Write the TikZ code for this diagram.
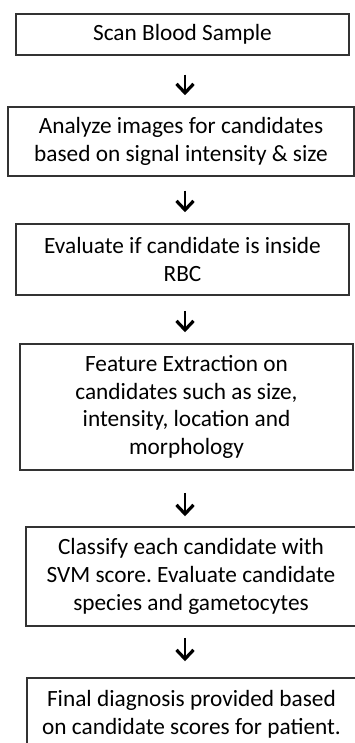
\documentclass[tikz,border=0pt]{standalone}
\usepackage{fontspec}
\setmainfont{Carlito}
\usetikzlibrary{arrows.meta}
\begin{document}
\frenchspacing
\begin{tikzpicture}[x=1pt,y=-1pt,
  box/.style={draw=black!80, line width=1.5pt, align=center, inner sep=0pt,
    font=\fontsize{23.3}{27.8}\selectfont, text=black},
  arr/.style={line width=2.2pt, draw=black,
    -{Straight Barb[length=9pt,width=17pt,line width=3.2pt]}}]
\useasboundingbox (0,0) rectangle (355,743);
\clip (0,0) rectangle (355,743);
\fill[white] (0,0) rectangle (355,743);
\node[box, minimum width=333pt, minimum height=41pt] (b1) at (182.5,34.5) {Scan Blood Sample};
\node[box, minimum width=346pt, minimum height=69pt] (b2) at (181,141.5) {Analyze images for candidates\\based on signal intensity \& size};
\node[box, minimum width=333pt, minimum height=71pt] (b3) at (182.5,259.5) {Evaluate if candidate is inside\\RBC};
\node[box, minimum width=333pt, minimum height=126pt] (b4) at (186.5,407) {Feature Extraction on\\candidates such as size,\\intensity, location and\\morphology};
\node[box, minimum width=330pt, minimum height=99pt] (b5) at (191,576.5) {Classify each candidate with\\SVM score. Evaluate candidate\\species and gametocytes};
\node[box, minimum width=329pt, minimum height=73pt] (b6) at (191.5,714.5) {Final diagnosis provided based\\on candidate scores for patient.};
\coordinate (ax) at (185,0);
\draw[arr, shorten <=19pt, shorten >=11pt] (b1.south -| ax) -- (b2.north -| ax);
\draw[arr, shorten <=14pt, shorten >=11pt] (b2.south -| ax) -- (b3.north -| ax);
\draw[arr, shorten <=15pt, shorten >=11pt] (b3.south -| ax) -- (b4.north -| ax);
\draw[arr, shorten <=22pt, shorten >=10pt] (b4.south -| ax) -- (b5.north -| ax);
\draw[arr, shorten <=11pt, shorten >=16pt] (b5.south -| ax) -- (b6.north -| ax);
\end{tikzpicture}
\end{document}
